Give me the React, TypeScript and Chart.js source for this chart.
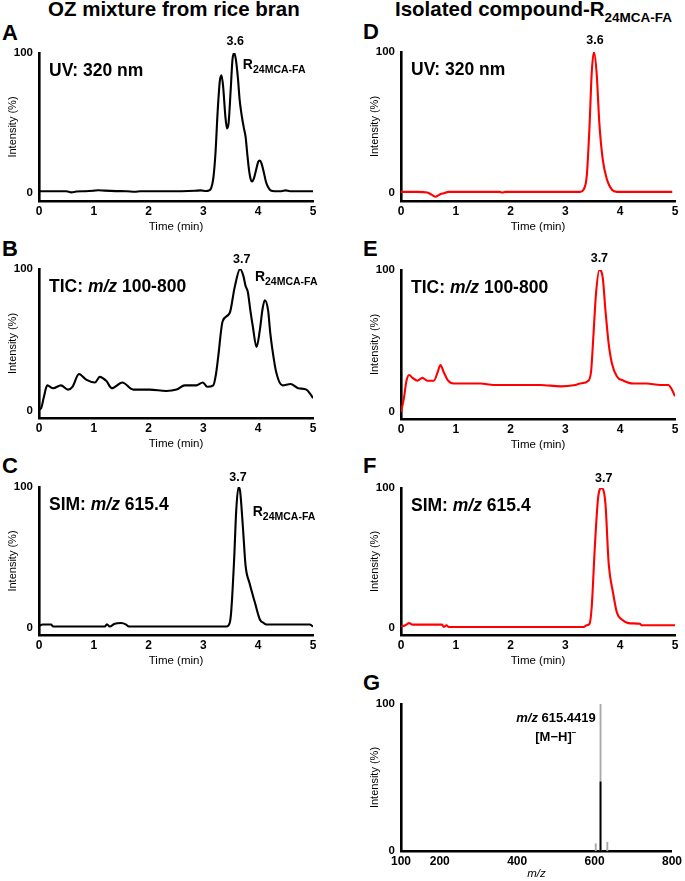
import React, { useEffect, useRef } from "react";
import { Chart, registerables } from "chart.js";
Chart.register(...registerables);

const FONT = "'Liberation Sans', Arial, Helvetica, sans-serif";

// ---------- Data ----------
// A: UV 320 nm, OZ mixture
const aTime = [0, 0.15, 0.35, 0.5, 0.59, 0.68, 0.85, 1.0, 1.08, 1.2, 1.4, 1.6, 1.75, 1.85, 2.05, 2.3, 2.6, 2.85, 2.95, 3.05, 3.1, 3.14, 3.18, 3.22, 3.26, 3.3, 3.33, 3.36, 3.4, 3.43, 3.46, 3.5, 3.53, 3.56, 3.59, 3.63, 3.66, 3.7, 3.74, 3.77, 3.8, 3.83, 3.86, 3.89, 3.92, 3.96, 4.0, 4.03, 4.06, 4.1, 4.14, 4.18, 4.23, 4.3, 4.42, 4.5, 4.58, 4.75, 5.0];
const aUV = [1, 1, 1, 1, 0.2, 0.8, 1, 1.4, 1.7, 1.4, 1.1, 1, 0.6, 1, 1, 1, 1, 1.3, 1.6, 1.2, 1.5, 3, 10, 28, 58, 80, 84, 76, 55, 46, 50, 75, 95, 100, 96, 82, 67, 55, 46, 40, 28, 17, 10, 8, 10, 16, 22, 23, 21, 15, 8, 4, 1.5, 1, 1, 1.6, 1, 1, 1];

// B: TIC m/z 100-800, OZ mixture
const bTime = [0, 0.04, 0.09, 0.15, 0.26, 0.4, 0.53, 0.61, 0.73, 0.86, 1.02, 1.11, 1.23, 1.33, 1.52, 1.72, 2.02, 2.32, 2.51, 2.66, 2.87, 2.99, 3.07, 3.18, 3.23, 3.27, 3.35, 3.48, 3.57, 3.67, 3.73, 3.77, 3.81, 3.86, 3.9, 3.97, 4.03, 4.08, 4.12, 4.18, 4.22, 4.26, 4.33, 4.44, 4.59, 4.73, 4.88, 4.95, 5.0];
const bTIC = [1, 2, 10, 18, 16, 18, 15, 17, 26, 22, 20, 24, 21, 16, 20, 15, 15, 14, 15, 18, 18, 20, 17, 18, 26, 38, 63, 69, 87, 100, 95, 88, 84, 70, 60, 45, 57, 72, 78, 71, 55, 43, 27, 18, 19, 16, 15, 12, 9];

// C: SIM m/z 615.4, OZ mixture
const cTime = [0, 0.07, 0.22, 0.26, 0.5, 1.0, 1.2, 1.24, 1.29, 1.38, 1.5, 1.59, 1.64, 2.0, 2.5, 3.0, 3.42, 3.48, 3.51, 3.56, 3.6, 3.64, 3.67, 3.72, 3.77, 3.84, 3.94, 4.03, 4.1, 4.15, 4.5, 4.94, 5.0];
const cSIM = [1.7, 2.4, 2.4, 1, 1, 1, 1, 2.6, 1, 3, 3.5, 2.4, 1, 1, 1, 1, 1, 3.5, 13, 48, 84, 100, 97, 72, 44, 32, 18, 6, 3.5, 2.4, 2.4, 2.4, 1];

// D: UV 320 nm, isolated compound
const dTime = [0, 0.3, 0.48, 0.56, 0.63, 0.7, 0.78, 0.87, 1.2, 1.8, 1.85, 1.9, 2.5, 3.0, 3.27, 3.33, 3.39, 3.44, 3.48, 3.52, 3.57, 3.62, 3.68, 3.76, 3.85, 3.94, 4.5, 4.95];
const dUV = [0.5, 0.5, 0, -1.5, -3, -1.5, -0.5, 0.5, 0.5, 0.5, 0, 0.5, 0.5, 0.5, 0.5, 2, 12, 47, 85, 100, 85, 49, 24, 9, 2, 0.5, 0.5, 0.5];

// E: TIC m/z 100-800, isolated compound
const eTime = [0, 0.05, 0.1, 0.15, 0.21, 0.3, 0.39, 0.48, 0.6, 0.66, 0.72, 0.78, 0.86, 0.96, 1.15, 1.45, 1.69, 2.06, 2.54, 2.91, 3.18, 3.27, 3.42, 3.47, 3.51, 3.56, 3.62, 3.68, 3.73, 3.79, 3.85, 3.94, 4.06, 4.24, 4.48, 4.73, 4.88, 4.94, 5.0];
const eTIC = [0, 9, 22, 26, 24, 22, 24, 22, 22, 27, 33, 28, 22, 20, 20, 20, 19, 19, 19, 18, 19, 20, 22, 29, 53, 84, 100, 95, 72, 48, 34, 25, 22, 20, 20, 19, 19, 16, 11];

// F: SIM m/z 615.4, isolated compound
const fTime = [0, 0.08, 0.15, 0.21, 0.5, 0.75, 0.78, 0.83, 0.87, 1.5, 2.5, 3.33, 3.39, 3.44, 3.48, 3.54, 3.6, 3.66, 3.73, 3.79, 3.87, 3.94, 4.03, 4.15, 4.36, 4.39, 4.7, 5.0];
const fSIM = [1, 2, 3.5, 2.4, 2.4, 2.4, 0.7, 2, 0.7, 0.7, 0.7, 0.7, 2, 3, 15, 60, 94, 100, 89, 46, 25, 11, 6, 3.5, 3, 2, 2, 2];

// G: mass spectrum
const gMz = [603, 615.4, 633];
const gIntensityGray = [5, 100, 6];
const gMzBlack = [615.4];
const gIntensityBlack = [47];

const timeTicks = [0, 1, 2, 3, 4, 5];
const intensityTicks = [0, 100];
const mzTicks = [100, 200, 400, 600, 800];

// ---------- Text notes plugin ----------
type Seg = { t: string; size: number; italic?: boolean; dy?: number };
type Note = { segs: Seg[]; x: number; y: number; mode: "data" | "area"; align: "left" | "center" | "right" };

function notesPlugin(notes: Note[]) {
  return {
    id: "notes",
    afterDraw(chart: any) {
      const ctx = chart.ctx;
      const xs = chart.scales.x;
      const ys = chart.scales.y;
      for (const n of notes) {
        let px: number, py: number;
        if (n.mode === "data") {
          px = xs.getPixelForValue(n.x);
          py = ys.getPixelForValue(n.y);
        } else {
          px = chart.chartArea.left + n.x;
          py = chart.chartArea.top + n.y;
        }
        ctx.save();
        ctx.textBaseline = "middle";
        ctx.fillStyle = "#000";
        const fonts = n.segs.map((s) => `${s.italic ? "italic " : ""}bold ${s.size}px ${FONT}`);
        const widths = n.segs.map((s, i) => {
          ctx.font = fonts[i];
          return ctx.measureText(s.t).width;
        });
        const total = widths.reduce((a, b) => a + b, 0);
        let cx = n.align === "left" ? px : n.align === "right" ? px - total : px - total / 2;
        n.segs.forEach((s, i) => {
          ctx.font = fonts[i];
          ctx.textAlign = "left";
          ctx.fillText(s.t, cx, py + (s.dy || 0));
          cx += widths[i];
        });
        ctx.restore();
      }
    },
  };
}

const rLabel = (x: number, y: number): Note => ({
  segs: [
    { t: "R", size: 14 },
    { t: "24MCA-FA", size: 10.5, dy: 5 },
  ],
  x,
  y,
  mode: "data",
  align: "left",
});
const peakLabel = (t: string, x: number, y: number): Note => ({ segs: [{ t, size: 12.5 }], x, y, mode: "data", align: "center" });
const inner = (segs: Seg[]): Note => ({ segs, x: 10, y: 18, mode: "area", align: "left" });
const uvLabel = inner([{ t: "UV: 320 nm", size: 17.5 }]);
const ticLabel = inner([
  { t: "TIC: ", size: 17.5 },
  { t: "m/z", size: 17.5, italic: true },
  { t: " 100-800", size: 17.5 },
]);
const simLabel = inner([
  { t: "SIM: ", size: 17.5 },
  { t: "m/z", size: 17.5, italic: true },
  { t: " 615.4", size: 17.5 },
]);

// ---------- Panel geometry ----------
type Panel = {
  key: string;
  colLeft: number;
  colWidth: number;
  t: number;
  b: number;
  l: number;
  r: number;
  ymin: number;
};

function axisCommon() {
  return {
    grid: { display: false, drawTicks: false },
    border: { display: true, width: 2.6, color: "#000" },
  };
}

function buildConfig(p: Panel, kind: "line" | "bar", datasets: any[], notes: Note[], xmin: number, xmax: number, xTicks: number[], xTitle: any) {
  const canvasTop = p.t - 26;
  const canvasBottom = Math.min(p.b + 36, 881);
  const xH = canvasBottom - p.b;
  const titlePadBottom = Math.max(0, canvasBottom - (p.b + 26) - 6.9);
  return {
    canvas: { left: p.colLeft, top: canvasTop, width: p.colWidth, height: canvasBottom - canvasTop },
    config: {
      type: kind,
      data: { datasets },
      options: {
        animation: false,
        responsive: false,
        maintainAspectRatio: false,
        events: [],
        layout: {
          padding: { left: p.l - p.colLeft - 39, right: p.colLeft + p.colWidth - p.r, top: p.t - canvasTop, bottom: 0 },
        },
        plugins: { legend: { display: false }, tooltip: { enabled: false } },
        scales: {
          x: {
            type: "linear",
            min: xmin,
            max: xmax,
            offset: false,
            ...axisCommon(),
            afterBuildTicks: (s: any) => {
              s.ticks = xTicks.map((v) => ({ value: v }));
            },
            afterFit: (s: any) => {
              s.height = xH;
            },
            ticks: { color: "#000", padding: 3, maxRotation: 0, font: { family: FONT, size: 12, weight: "bold" } },
            title: { display: true, ...xTitle, color: "#000", padding: { top: 0, bottom: titlePadBottom } },
          },
          y: {
            type: "linear",
            min: p.ymin,
            max: 100,
            ...axisCommon(),
            afterBuildTicks: (s: any) => {
              s.ticks = intensityTicks.map((v) => ({ value: v }));
            },
            afterFit: (s: any) => {
              s.width = 39;
            },
            ticks: { color: "#000", padding: 6, font: { family: FONT, size: 11.5, weight: "bold" } },
            title: {
              display: true,
              text: "Intensity (%)",
              color: "#000",
              font: { family: FONT, size: 11 },
              padding: { top: 6.4, bottom: 0 },
            },
          },
        },
      },
      plugins: [notesPlugin(notes)],
    },
  };
}

const timeTitle = { text: "Time (min)", font: { family: FONT, size: 11.5 } };

function lineSet(xs: number[], ys: number[], color: string) {
  return {
    data: xs.map((x, i) => ({ x, y: ys[i] })),
    borderColor: color,
    borderWidth: 2.1,
    pointRadius: 0,
    fill: false,
    cubicInterpolationMode: "monotone",
  };
}

const LEFT = { colLeft: 0, colWidth: 340, l: 39, r: 313 };
const RIGHT = { colLeft: 340, colWidth: 345, l: 401, r: 675 };

const panels = [
  buildConfig({ key: "A", ...LEFT, t: 53, b: 201, ymin: -6 }, "line", [lineSet(aTime, aUV, "#000")], [uvLabel, peakLabel("3.6", 3.58, 108), rLabel(3.72, 91)], 0, 5, timeTicks, timeTitle),
  buildConfig({ key: "B", ...LEFT, t: 269, b: 418, ymin: -5 }, "line", [lineSet(bTime, bTIC, "#000")], [ticLabel, peakLabel("3.7", 3.7, 107), rLabel(3.94, 94)], 0, 5, timeTicks, timeTitle),
  buildConfig({ key: "C", ...LEFT, t: 487, b: 635, ymin: -5 }, "line", [lineSet(cTime, cSIM, "#000")], [simLabel, peakLabel("3.7", 3.63, 107), rLabel(3.9, 82)], 0, 5, timeTicks, timeTitle),
  buildConfig({ key: "D", ...RIGHT, t: 52, b: 201, ymin: -6 }, "line", [lineSet(dTime, dUV, "#ff0000")], [uvLabel, peakLabel("3.6", 3.54, 108)], 0, 5, timeTicks, timeTitle),
  buildConfig({ key: "E", ...RIGHT, t: 270, b: 419, ymin: -5 }, "line", [lineSet(eTime, eTIC, "#ff0000")], [ticLabel, peakLabel("3.7", 3.62, 108)], 0, 5, timeTicks, timeTitle),
  buildConfig({ key: "F", ...RIGHT, t: 488, b: 635, ymin: -5 }, "line", [lineSet(fTime, fSIM, "#ff0000")], [simLabel, peakLabel("3.7", 3.7, 107)], 0, 5, timeTicks, timeTitle),
  buildConfig(
    { key: "G", ...RIGHT, t: 704, b: 851, ymin: 0 },
    "bar",
    [
      {
        data: gMz.map((x, i) => ({ x, y: gIntensityGray[i] })),
        backgroundColor: "#a8a8a8",
        barThickness: 1.2,
        grouped: false,
        order: 2,
      },
      {
        data: gMzBlack.map((x, i) => ({ x, y: gIntensityBlack[i] })),
        backgroundColor: "#000",
        barThickness: 1.2,
        grouped: false,
        order: 1,
      },
    ],
    [
      {
        segs: [
          { t: "m/z", size: 13, italic: true },
          { t: " 615.4419", size: 13 },
        ],
        x: 603,
        y: 90,
        mode: "data",
        align: "right",
      },
      {
        segs: [
          { t: "[M\u2212H]", size: 13 },
          { t: "\u2212", size: 8, dy: -5 },
        ],
        x: 500,
        y: 77,
        mode: "data",
        align: "center",
      },
    ],
    100,
    800,
    mzTicks,
    { text: "m/z", font: { family: FONT, size: 11.5, style: "italic" } }
  ),
];

function ChartCanvas({ item }: { item: any }) {
  const ref = useRef<HTMLCanvasElement | null>(null);
  useEffect(() => {
    if (!ref.current) return;
    const chart = new Chart(ref.current, item.config as any);
    return () => chart.destroy();
  }, [item]);
  const c = item.canvas;
  return (
    <canvas
      ref={ref}
      width={c.width}
      height={c.height}
      style={{ position: "absolute", left: c.left, top: c.top, width: c.width, height: c.height }}
    />
  );
}

const letterStyle = (left: number, top: number): React.CSSProperties => ({
  position: "absolute",
  left,
  top,
  fontSize: 22,
  fontWeight: "bold",
  lineHeight: 1,
  fontFamily: FONT,
  color: "#000",
});

const panelLetters = [
  { l: "A", x: 2, y: 22 },
  { l: "B", x: 2, y: 238 },
  { l: "C", x: 2, y: 455 },
  { l: "D", x: 363, y: 21 },
  { l: "E", x: 363, y: 238 },
  { l: "F", x: 363, y: 455 },
  { l: "G", x: 363, y: 672 },
];

export default function App() {
  return (
    <div
      style={{
        position: "absolute",
        left: 0,
        top: 0,
        width: 685,
        height: 881,
        overflow: "hidden",
        background: "#fff",
        fontFamily: FONT,
      }}
    >
      <div style={{ position: "absolute", left: 48, top: -1.5, fontSize: 20.5, fontWeight: "bold", lineHeight: 1, whiteSpace: "nowrap" }}>
        OZ mixture from rice bran
      </div>
      <div style={{ position: "absolute", left: 395, top: -1.5, fontSize: 20.5, fontWeight: "bold", lineHeight: 1, whiteSpace: "nowrap" }}>
        Isolated compound-R
        <span style={{ fontSize: 13.5, position: "relative", top: 6 }}>24MCA-FA</span>
      </div>
      {panelLetters.map((p) => (
        <div key={p.l} style={letterStyle(p.x, p.y)}>
          {p.l}
        </div>
      ))}
      {panels.map((item, i) => (
        <ChartCanvas key={i} item={item} />
      ))}
    </div>
  );
}
